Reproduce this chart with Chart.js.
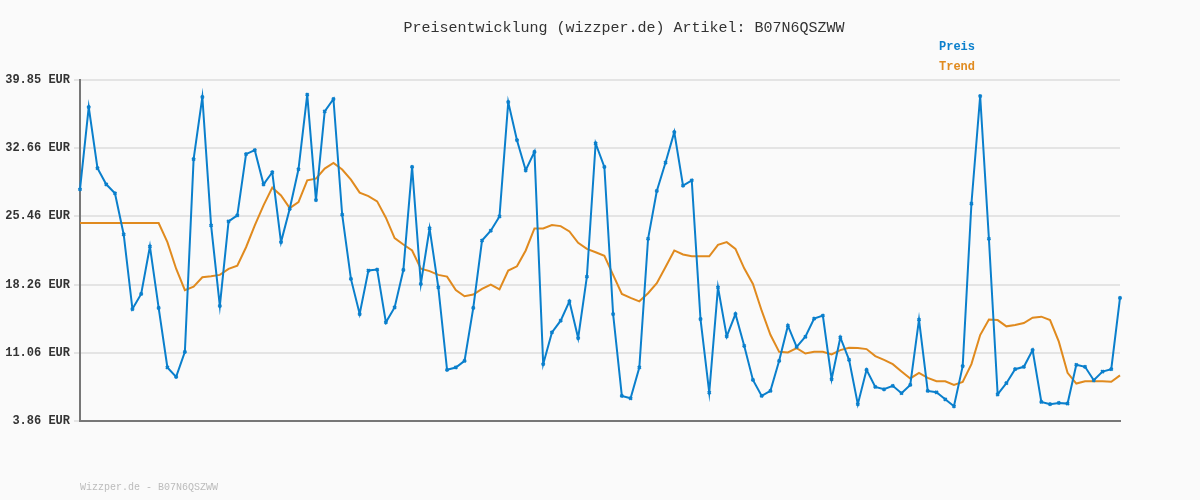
<!DOCTYPE html>
<html>
<head>
<meta charset="utf-8">
<script src="https://cdn.jsdelivr.net/npm/chart.js@4/dist/chart.umd.min.js"></script>
<style>
  body { margin: 0; background: #fafafa; }
  #wrap { width: 1200px; height: 500px; }
</style>
</head>
<body>
<div id="wrap"><canvas id="c" width="1200" height="500"></canvas></div>
<script>
// Values
const preis = [28.31, 36.99, 30.54, 28.84, 27.89, 23.55, 15.68, 17.27, 22.28, 15.79,
  9.51, 8.52, 11.16, 31.49, 38.05, 24.5, 16.0, 24.93, 25.56, 32.02,
  32.44, 28.84, 30.11, 22.74, 26.26, 30.43, 38.3, 27.18, 36.53, 37.84,
  25.63, 18.86, 15.15, 19.74, 19.84, 14.27, 15.85, 19.8, 30.68, 18.33,
  24.18, 17.97, 9.26, 9.51, 10.21, 15.79, 22.91, 23.94, 25.45, 37.52,
  33.5, 30.32, 32.26, 9.86, 13.21, 14.45, 16.49, 12.61, 19.1, 33.15,
  30.68, 15.15, 6.51, 6.26, 9.51, 23.09, 28.14, 31.14, 34.35, 28.7,
  29.26, 14.62, 6.86, 17.97, 12.79, 15.15, 11.8, 8.2, 6.51, 7.04,
  10.21, 13.92, 11.69, 12.75, 14.66, 14.98, 8.27, 12.68, 10.32, 5.63,
  9.26, 7.46, 7.21, 7.57, 6.79, 7.67, 14.55, 7.04, 6.89, 6.15,
  5.41, 9.65, 26.79, 38.16, 23.09, 6.68, 7.85, 9.33, 9.58, 11.34,
  5.87, 5.63, 5.77, 5.7, 9.79, 9.58, 8.16, 9.08, 9.33, 16.85];

const trend = [24.75, 24.75, 24.75, 24.75, 24.75, 24.75, 24.75, 24.75, 24.75, 24.75,
  22.74, 19.93, 17.67, 18.03, 19.03, 19.14, 19.28, 19.91, 20.26, 22.2,
  24.5, 26.62, 28.49, 27.67, 26.33, 26.97, 29.26, 29.44, 30.5, 31.1,
  30.4, 29.34, 27.96, 27.6, 27.04, 25.32, 23.16, 22.49, 21.86, 19.93,
  19.68, 19.28, 19.1, 17.67, 17.02, 17.2, 17.8, 18.25, 17.76, 19.74,
  20.19, 21.86, 24.18, 24.18, 24.54, 24.43, 23.87, 22.66, 22.03, 21.67,
  21.29, 19.28, 17.27, 16.85, 16.49, 17.34, 18.4, 20.11, 21.86, 21.43,
  21.24, 21.24, 21.24, 22.45, 22.74, 22.03, 19.97, 18.33, 15.5, 12.96,
  11.16, 11.09, 11.56, 10.98, 11.16, 11.16, 10.89, 11.34, 11.6, 11.56,
  11.45, 10.71, 10.32, 9.86, 9.09, 8.35, 8.94, 8.41, 8.06, 8.06,
  7.67, 7.99, 9.86, 12.93, 14.58, 14.51, 13.85, 13.99, 14.2, 14.76,
  14.87, 14.51, 12.23, 8.94, 7.81, 8.06, 8.06, 8.06, 8.0, 8.67];

const yTicks = [3.86, 11.06, 18.26, 25.46, 32.66, 39.85];
const labels = preis.map((_, i) => String(i + 1));

const mono = 'Liberation Mono';
const blue = '#0a7fcc';
const orange = '#e08a1e';

// Title, legend and footer drawn as text on the canvas
const textPlugin = {
  id: 'texts',
  afterDraw(chart) {
    const ctx = chart.ctx;
    ctx.save();
    ctx.textBaseline = 'middle';
    ctx.font = '15px ' + mono;
    ctx.fillStyle = '#333';
    ctx.textAlign = 'center';
    ctx.fillText('Preisentwicklung (wizzper.de) Artikel: B07N6QSZWW', 624, 28);
    ctx.textAlign = 'left';
    ctx.font = 'bold 12px ' + mono;
    chart.data.datasets.forEach((ds, i) => {
      ctx.fillStyle = ds.borderColor;
      ctx.fillText(ds.label, 939, 47 + i * 20);
    });
    ctx.font = '10px ' + mono;
    ctx.fillStyle = '#bbb';
    ctx.fillText('Wizzper.de - B07N6QSZWW', 80, 487);
    ctx.restore();
  }
};

new Chart(document.getElementById('c'), {
  type: 'line',
  data: {
    labels: labels,
    datasets: [
      { label: 'Preis', data: preis, borderColor: blue, backgroundColor: blue,
        borderWidth: 2, pointRadius: 2, pointStyle: 'crossRot', pointBorderWidth: 2,
        tension: 0, order: 1 },
      { label: 'Trend', data: trend, borderColor: orange, borderWidth: 2,
        pointRadius: 0, tension: 0, order: 2 }
    ]
  },
  options: {
    responsive: false,
    animation: false,
    layout: { padding: { top: 80, right: 80, bottom: 71, left: 0 } },
    plugins: { legend: { display: false }, title: { display: false }, tooltip: { enabled: false } },
    scales: {
      x: {
        offset: false,
        ticks: { display: false },
        grid: { display: false },
        border: { color: '#777', width: 2 }
      },
      y: {
        min: 3.86, max: 39.85,
        afterFit: s => { s.width = 80; },
        afterBuildTicks: s => { s.ticks = yTicks.map(v => ({ value: v })); },
        ticks: {
          color: '#333', padding: 4,
          font: { family: mono, size: 12, weight: 'bold' },
          callback: v => v.toFixed(2) + ' EUR'
        },
        grid: { color: '#e4e4e4', lineWidth: 2, drawTicks: true, tickLength: 6 },
        border: { color: '#777', width: 2 }
      }
    }
  },
  plugins: [textPlugin]
});
</script>
</body>
</html>
